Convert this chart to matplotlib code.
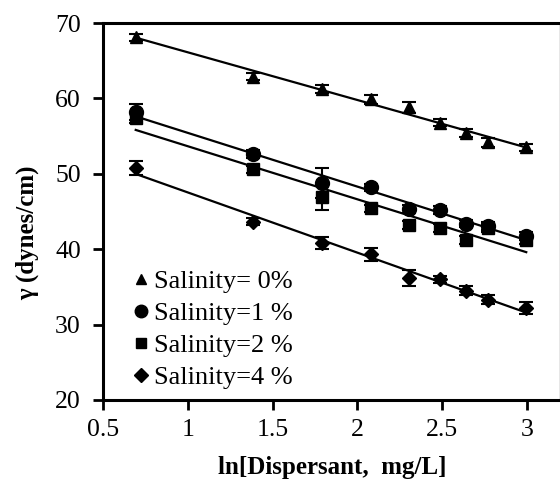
import numpy as np
import matplotlib
matplotlib.use("Agg")
import matplotlib.pyplot as plt

plt.rcParams['font.family'] = ['Liberation Serif', 'DejaVu Serif']

x_vals = [0.693, 1.386, 1.792, 2.079, 2.303, 2.485, 2.639, 2.773, 2.996]

labels = ["Salinity= 0%", "Salinity=1 %", "Salinity=2 %", "Salinity=4 %"]
markers = ["^", "o", "s", "D"]
msizes = [8.5, 10, 8.5, 7.5]
zorders = [4, 5, 4, 4]

y_s0 = [68.1, 62.9, 61.25, 59.9, 58.8, 56.8, 55.4, 54.2, 53.5]
y_s1 = [58.2, 52.6, 48.8, 48.2, 45.3, 45.2, 43.4, 43.1, 41.75]
y_s2 = [57.4, 50.6, 46.9, 45.4, 43.2, 42.8, 41.2, 42.8, 41.2]
y_s4 = [50.8, 43.65, 40.8, 39.3, 36.2, 36.0, 34.5, 33.3, 32.2]

e_s0 = [0.5, 0.5, 0.5, 0.6, 0.7, 0.5, 0.5, 0.6, 0.5]
e_s1 = [1.1, 0.5, 2.0, 0.5, 0.5, 0.5, 0.5, 0.5, 0.5]
e_s2 = [0.6, 0.5, 1.7, 0.5, 0.5, 0.5, 0.5, 0.5, 0.5]
e_s4 = [0.9, 0.5, 0.8, 0.8, 1.1, 0.5, 0.6, 0.6, 0.8]

series = [y_s0, y_s1, y_s2, y_s4]
errors = [e_s0, e_s1, e_s2, e_s4]

fig = plt.figure(figsize=(5.6, 4.8), dpi=100)
ax = fig.add_axes([103/560, 80/480, 457/560, 377/480])

x = np.array(x_vals)
handles = []
for ys, es, m, ms, zo, lab in zip(series, errors, markers, msizes, zorders, labels):
    ys = np.array(ys, dtype=float)
    ax.errorbar(x, ys, yerr=es, fmt='none', ecolor='black',
                elinewidth=1.5, capsize=5, capthick=1.5, zorder=3)
    h, = ax.plot(x, ys, linestyle='none', marker=m, markersize=ms,
                 color='black', zorder=zo, label=lab)
    handles.append(h)
    k, b = np.polyfit(x, ys, 1)
    xx = np.array([x.min(), x.max()])
    ax.plot(xx, k * xx + b, color='black', linewidth=1.6, zorder=2)

ax.set_xlim(0.5, 3.195)
ax.set_ylim(20, 70)
ax.set_xticks([0.5, 1, 1.5, 2, 2.5, 3])
ax.set_xticklabels(["0.5", "1", "1.5", "2", "2.5", "3"])
ax.set_yticks([20, 30, 40, 50, 60, 70])
ax.tick_params(direction='out', length=7, width=2, labelsize=18.5)
ax.tick_params(axis='x', pad=7)
ax.tick_params(axis='y', pad=9)

for s in ['left', 'bottom', 'top']:
    ax.spines[s].set_linewidth(2.2)
    ax.spines[s].set_color('black')
ax.spines['right'].set_linewidth(1.0)
ax.spines['right'].set_color('#888888')

ax.set_xlabel("ln[Dispersant,  mg/L]", fontsize=18, fontweight='bold')
ax.set_ylabel("γ (dynes/cm)", fontsize=18, fontweight='bold')
ax.xaxis.set_label_coords(0.501, -0.178)
ax.xaxis.label.set_va('center')
ax.yaxis.set_label_coords(-0.166, 0.443)
ax.yaxis.label.set_va('center')

leg = ax.legend(handles=handles, loc='lower left', bbox_to_anchor=(0.042, 0.0),
                frameon=False, fontsize=19, handlelength=0.6, handletextpad=0.2,
                labelspacing=0.33, borderaxespad=0.0, markerscale=0.9)

fig.savefig("out.png", dpi=100)
